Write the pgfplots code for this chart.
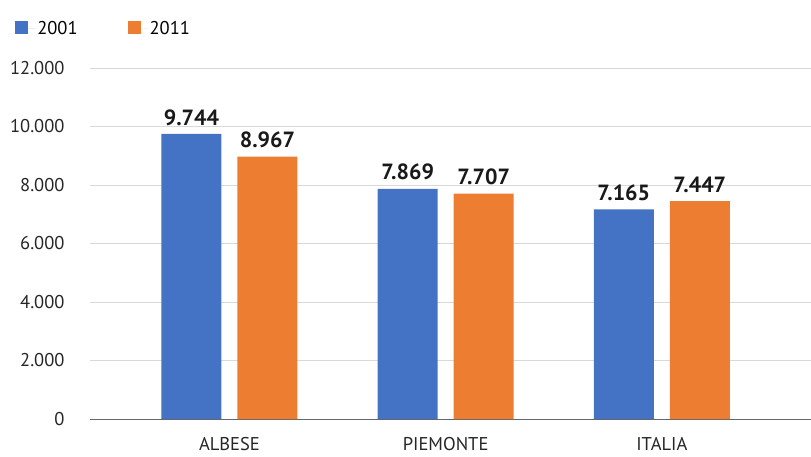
\documentclass[border=0pt]{standalone}
\usepackage{pgfplots}
\pgfplotsset{compat=1.18}
\usepackage{fontspec}
\setmainfont{PT Sans}
\definecolor{cblue}{HTML}{4472C4}
\definecolor{corange}{HTML}{ED7D31}
\definecolor{gridc}{HTML}{D9D9D9}
\begin{document}
\begin{tikzpicture}
\useasboundingbox (-90pt,-37pt) rectangle (721pt,419pt);
\begin{axis}[
  at={(0,0)}, anchor=south west,
  scale only axis, width=721pt, height=351pt,
  ybar=16pt, bar width=60pt,
  xmin=-0.645, xmax=2.69,
  ymin=0, ymax=12000,
  xtick=data, xticklabels={ALBESE,PIEMONTE,ITALIA},
  ytick={0,2000,4000,6000,8000,10000,12000},
  scaled y ticks=false,
  /pgf/number format/assume math mode=true,
  /pgf/number format/1000 sep={.},
  ymajorgrids, grid style={gridc, line width=0.8pt},
  axis x line*=bottom, axis y line*=left,
  y axis line style={draw=none},
  x axis line style={draw=black!60, line width=1pt, -},
  xtick style={draw=none}, ytick style={draw=none},
  ticklabel style={font=\fontsize{18.5}{20}\selectfont, text=black!85},
  yticklabel style={xshift=-22pt},
  xticklabel style={yshift=-11pt},
  nodes near coords,
  every node near coord/.append style={yshift=5pt, font=\fontsize{22}{24}\selectfont\bfseries, text=black!90, /pgf/number format/1000 sep={.}, /pgf/number format/assume math mode=true},
  legend columns=2,
  legend style={at={(-0.108,1.145)}, anchor=north west, draw=none, fill=none,
    font=\fontsize{18.5}{20}\selectfont, /tikz/every even column/.append style={column sep=48pt}},
  legend image code/.code={\fill[#1] (0pt,-5pt) rectangle (13pt,8pt); \path (0pt,0pt) -- (20pt,0pt);},
  clip=false,
]
\addplot[fill=cblue, draw=none] coordinates {(0,9744) (1,7869) (2,7165)};
\addplot[fill=corange, draw=none] coordinates {(0,8967) (1,7707) (2,7447)};
\legend{2001,2011}
\end{axis}
\end{tikzpicture}
\end{document}
